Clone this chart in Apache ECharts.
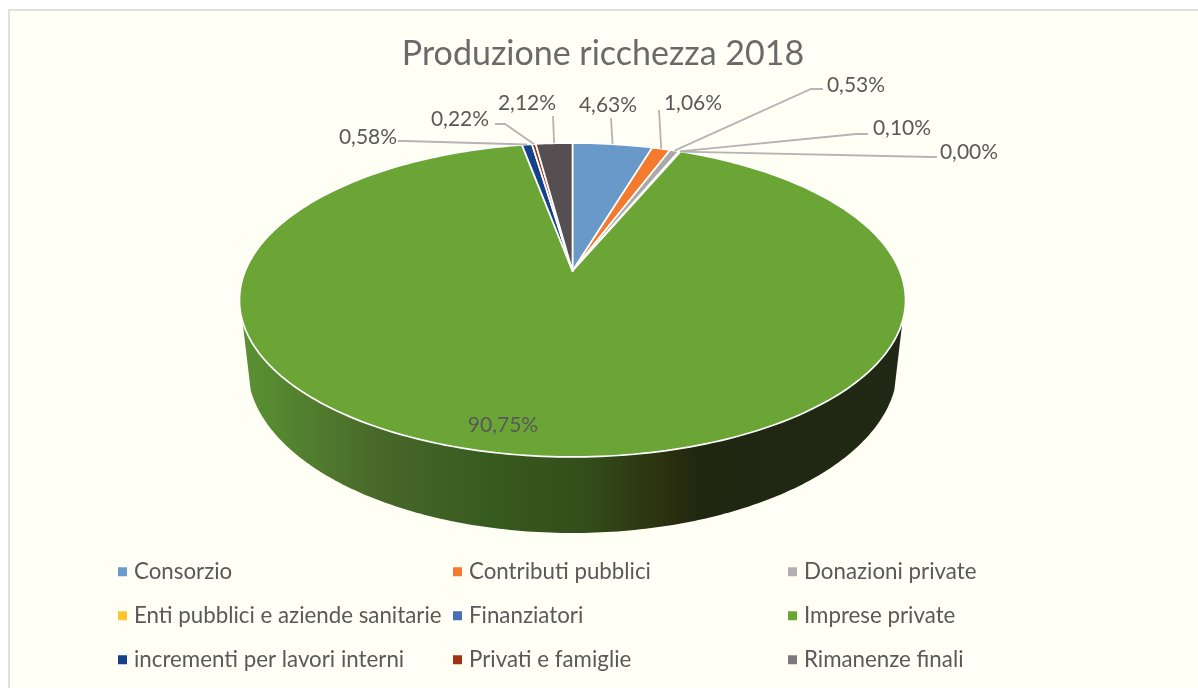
<!DOCTYPE html>
<html>
<head>
<meta charset="utf-8">
<style>html,body{margin:0;padding:0;background:#fff}#c{width:1198px;height:688px}</style>
<script src="https://cdn.jsdelivr.net/npm/echarts@6/dist/echarts.min.js"></script>
</head>
<body>
<div id="c"></div>
<script>
const chartTitle = 'Produzione ricchezza 2018';
const categories = ['Consorzio','Contributi pubblici','Donazioni private','Enti pubblici e aziende sanitarie','Finanziatori','Imprese private','incrementi per lavori interni','Privati e famiglie','Rimanenze finali'];
const shares = [4.63,1.06,0.53,0.10,0.00,90.75,0.58,0.22,2.12];
const sliceColors = ['#6999c8','#f47a2e','#a9a9a9','#ffc42e','#4a6db5','#6ba535','#16408a','#9e3414','#554f52'];
const legendColors = ['#6a9bcb','#f47a2e','#b0b0b0','#ffc42e','#4a6db5','#6ba535','#16408a','#9e3414','#7b7b7b'];
const labelTexts = ['4,63%','1,06%','0,53%','0,10%','0,00%','90,75%','0,58%','0,22%','2,12%'];

// layout: label anchor and leader elbows, not data
const labelPos = [[608,105],[693,103],[856,85],[902,128],[969,152],[503,425],[368,137],[460,119],[527,103]];
const leaderPath = [[[611,118]],[[659,110]],[[811,89],[823,89]],[[856,134],[868,134]],[[932,157],[937,157]],null,[[405,141],[398,141]],[[505,124],[495,124]],[[553,116]]];

const FONT = 'Lato, Carlito, "Open Sans", sans-serif';
const apex = {x:572.5,y:271}, K=0.1847, A=327.3, B=151.6;
function project(pct){
  const t = pct/100*2*Math.PI, u=Math.sin(t), v=Math.cos(t), d=1+K*v;
  return [apex.x+A*u/d, apex.y-B*v/d];
}
const starts=[]; shares.reduce((s,v,i)=>(starts[i]=s,s+v),0);
const total = shares.reduce((a,b)=>a+b,0);

function renderSlice(idx){
  return function(){
    const s=starts[idx]/total*100, e=(starts[idx]+shares[idx])/total*100;
    const pts=[[apex.x,apex.y]], n=Math.max(2,Math.ceil((e-s)*3));
    for(let i=0;i<=n;i++) pts.push(project(s+(e-s)*i/n));
    return {type:'polygon',shape:{points:pts},style:{fill:sliceColors[idx],stroke:'#ffffff',lineWidth:1.7,lineJoin:'round'}};
  };
}
function renderWall(){
  const pts=[[240,300]], cx=572.5, cy=367, rx=325, ry=166;
  for(let i=8;i<=172;i++){const a=Math.PI*i/180; pts.push([cx-rx*Math.cos(a),cy+ry*Math.sin(a)]);}
  pts.push([905,300]);
  const p=x=>(x-240)/665;
  return {type:'polygon',shape:{points:pts},style:{fill:new echarts.graphic.LinearGradient(0,0,1,0,[
    {offset:0,color:'#5b9032'},{offset:p(266),color:'#578b31'},{offset:p(380),color:'#48682a'},{offset:p(495),color:'#375a1e'},
    {offset:p(587),color:'#334d1a'},{offset:p(670),color:'#2b2e0e'},{offset:p(702),color:'#1f2711'},{offset:1,color:'#212916'}])}};
}
function renderLabels(){
  const children=[];
  shares.forEach((v,i)=>{
    const mid=(starts[i]+v/2)/total*100;
    if(leaderPath[i]){
      children.push({type:'polyline',shape:{points:[project(mid)].concat(leaderPath[i])},style:{fill:null,stroke:'#b4b4b4',lineWidth:1.8}});
    }
    children.push({type:'text',x:labelPos[i][0],y:labelPos[i][1],style:{text:labelTexts[i],font:'21px '+FONT,fill:'#595959',align:'center',verticalAlign:'middle'}});
  });
  return {type:'group',children};
}
const series=[{type:'custom',name:'_wall',coordinateSystem:'none',silent:true,z:1,data:[0],renderItem:renderWall}];
categories.forEach((name,i)=>series.push({type:'custom',name,coordinateSystem:'none',z:2,data:[shares[i]],itemStyle:{color:sliceColors[i]},renderItem:renderSlice(i)}));
series.push({type:'custom',name:'_labels',coordinateSystem:'none',silent:true,z:3,data:[0],renderItem:renderLabels});

const legendCol=(x,ids)=>({orient:'vertical',left:x,top:559,padding:0,itemWidth:9,itemHeight:9,itemGap:18.5,icon:'rect',selectedMode:false,
  textStyle:{fontFamily:FONT,fontSize:22.3,color:'#595959',padding:[0,0,0,2],lineHeight:25.5},
  data:ids.map(i=>({name:categories[i],itemStyle:{color:legendColors[i]}}))});

const chart=echarts.init(document.getElementById('c'),null,{renderer:'canvas'});
chart.setOption({
  animation:false,
  backgroundColor:'#fff',
  title:{text:chartTitle,left:598,top:32,textAlign:'center',textStyle:{fontFamily:FONT,fontSize:34,fontWeight:'normal',color:'#6a6a6a'}},
  graphic:[
    {type:'rect',z:-10,silent:true,shape:{x:8,y:9,width:1190,height:679},style:{fill:'#e0e0dc'}},
    {type:'rect',z:-9,silent:true,shape:{x:10,y:11,width:1188,height:677},style:{fill:'#fffff5'}}
  ],
  legend:[legendCol(118,[0,3,6]),legendCol(453,[1,4,7]),legendCol(788,[2,5,8])],
  series
});
</script>
</body>
</html>
